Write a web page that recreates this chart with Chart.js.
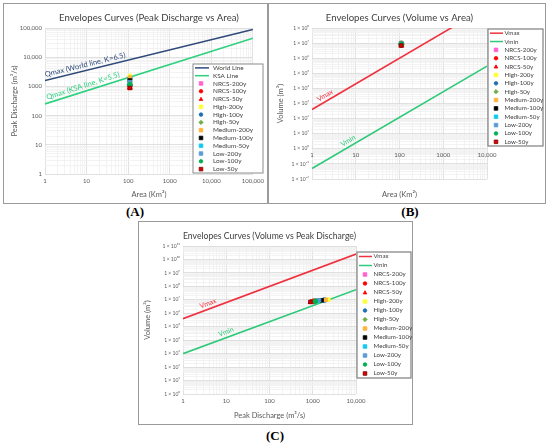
<!DOCTYPE html>
<html>
<head>
<meta charset="utf-8">
<script src="https://cdn.jsdelivr.net/npm/chart.js@4.4.1/dist/chart.umd.min.js"></script>
<style>
  html, body { margin: 0; padding: 0; background: #fff; }
  body { width: 550px; height: 447px; position: relative; overflow: hidden; }
  .panel { position: absolute; border: 1px solid #9a9a9a; background: #fff; }
  .panel canvas { position: absolute; left: 0; top: 0; }
  .tag { position: absolute; font: bold 13px 'Liberation Serif', serif; color: #000; transform: translateX(-50%); }
</style>
</head>
<body>
<div class="panel" style="left:3px;top:3px;width:263px;height:199px;"><canvas id="chartA" width="263" height="199"></canvas></div>
<div class="panel" style="left:268px;top:3px;width:276px;height:199px;"><canvas id="chartB" width="276" height="199"></canvas></div>
<div class="panel" style="left:138px;top:221px;width:273px;height:202px;"><canvas id="chartC" width="273" height="202"></canvas></div>
<div class="tag" style="left:135px;top:204px;">(A)</div>
<div class="tag" style="left:410px;top:204px;">(B)</div>
<div class="tag" style="left:275px;top:428px;">(C)</div>
<script>
// scenarios (same watershed, ~110 km²)
const scenarios = ['NRCS-200y', 'NRCS-100y', 'NRCS-50y', 'High-200y', 'High-100y', 'High-50y',
    'Medium-200y', 'Medium-100y', 'Medium-50y', 'Low-200y', 'Low-100y', 'Low-50y'];
const areaKm2 = [110, 110, 110, 110, 110, 110, 110, 110, 110, 110, 110, 110];
const peakQ = [1250, 1050, 900, 2300, 1850, 1500, 2000, 1600, 1300, 1400, 1150, 880];
const volumeM3 = [9.0e6, 7.8e6, 6.8e6, 1.05e7, 9.6e6, 8.6e6, 1.0e7, 9.2e6, 8.2e6, 9.4e6, 8.0e6, 7.0e6];

// envelope lines (end points)
const worldArea = [1, 100000];
const worldQ = [1585, 89125];
const ksaArea = [1, 100000];
const ksaQ = [251, 44668];
const vmaxArea = [1, 10000];
const vmaxVol = [400, 2.5e9];
const vminArea = [1, 10000];
const vminVol = [0.05, 3.0e5];
const vmaxQ = [1, 10000];
const vmaxQVol = [4.0e5, 2.5e10];
const vminQ = [1, 10000];
const vminQVol = [1000, 5.6e7];

// tick labels
const tickA = [1, 10, 100, 1000, 10000, 100000];
const tickALabels = ['1', '10', '100', '1000', '10,000', '100,000'];
const tickX4 = [1, 10, 100, 1000, 10000];
const tickX4Labels = ['1', '10', '100', '1000', '10,000'];
const volTicksB = [1e-2, 1e-1, 1e0, 1e1, 1e2, 1e3, 1e4, 1e5, 1e6, 1e7, 1e8];
const volTicksBLabels = ['1 × 10⁻²', '1 × 10⁻¹', '1 × 10⁰', '1 × 10¹', '1 × 10²', '1 × 10³',
    '1 × 10⁴', '1 × 10⁵', '1 × 10⁶', '1 × 10⁷', '1 × 10⁸'];
const volTicksC = [1e0, 1e1, 1e2, 1e3, 1e4, 1e5, 1e6, 1e7, 1e8, 1e9, 1e10, 1e11];
const volTicksCLabels = ['1 × 10⁰', '1 × 10¹', '1 × 10²', '1 × 10³', '1 × 10⁴', '1 × 10⁵',
    '1 × 10⁶', '1 × 10⁷', '1 × 10⁸', '1 × 10⁹', '1 × 10¹⁰', '1 × 10¹¹'];

// marker styles per scenario
const markerShape = ['rect', 'circle', 'triangle', 'rect', 'circle', 'rectRot',
    'rect', 'rect', 'rect', 'rect', 'circle', 'rect'];
const markerFill = ['#ff5fd0', '#ff0000', '#ff0000', '#ffff33', '#1f6fb2', '#70ad47',
    '#ffb13b', '#000000', '#12c8ee', '#5b9bd5', '#00b050', '#e00000'];
const markerEdge = ['#ff5fd0', '#ff0000', '#ff0000', '#ffff33', '#1f6fb2', '#70ad47',
    '#ffb13b', '#000000', '#12c8ee', '#5b9bd5', '#00b050', '#7a0000'];

const FONT = 'Lato, sans-serif';
const TXT = '#595959';

function pairs(xs, ys) {
    return xs.map((x, i) => ({ x: x, y: ys[i] }));
}

function lineSet(label, xs, ys, color) {
    return {
        type: 'line', label: label, data: pairs(xs, ys),
        borderColor: color, backgroundColor: color, borderWidth: 1.6,
        pointRadius: 0, fill: false, order: 30, xAxisID: 'x', yAxisID: 'y'
    };
}

function markerSets(xs, ys) {
    return scenarios.map((name, i) => ({
        type: 'scatter', label: name, data: [{ x: xs[i], y: ys[i] }],
        pointStyle: markerShape[i], backgroundColor: markerFill[i], borderColor: markerEdge[i],
        pointRadius: markerShape[i] === 'triangle' ? 3 : 2.5, pointBorderWidth: 0.8,
        order: 12 - i, xAxisID: 'x', yAxisID: 'y'
    }));
}

// minor + major ticks on every decade
function decadeTicks(scale) {
    const out = [];
    const lo = Math.round(Math.log10(scale.min));
    const hi = Math.round(Math.log10(scale.max));
    for (let e = lo; e <= hi; e++) {
        for (let m = 1; m <= 9; m++) {
            const v = m * Math.pow(10, e);
            if (v > scale.max * 1.000001) break;
            out.push({ value: v, major: m === 1 });
        }
    }
    scale.ticks = out;
}

function labeler(values, labels) {
    return function (value) {
        const i = values.findIndex(v => Math.abs(v - value) <= v * 1e-6);
        return i >= 0 ? labels[i] : '';
    };
}

function logAxis(min, max, values, labels, fontSize, extra) {
    const ax = {
        type: 'logarithmic', min: min, max: max,
        afterBuildTicks: decadeTicks,
        grid: {
            drawTicks: false,
            color: c => (c.tick && c.tick.major) ? '#d9d9d9' : '#f0f0f0',
            lineWidth: 0.8
        },
        border: { display: false },
        ticks: {
            autoSkip: false, maxRotation: 0, minRotation: 0,
            color: TXT, font: { family: FONT, size: fontSize },
            callback: labeler(values, labels)
        }
    };
    return Object.assign(ax, extra || {});
}

function axisTitle(text, padding) {
    return { display: true, text: text, color: TXT, font: { family: FONT, size: 7.5 }, padding: padding };
}

function drawMarker(ctx, shape, x, y, r, fill, edge) {
    ctx.save();
    ctx.fillStyle = fill;
    ctx.strokeStyle = edge;
    ctx.lineWidth = 0.8;
    ctx.beginPath();
    if (shape === 'circle') {
        ctx.arc(x, y, r, 0, Math.PI * 2);
    } else if (shape === 'triangle') {
        ctx.moveTo(x, y - r);
        ctx.lineTo(x + r, y + r * 0.8);
        ctx.lineTo(x - r, y + r * 0.8);
        ctx.closePath();
    } else if (shape === 'rectRot') {
        ctx.moveTo(x, y - r * 1.2);
        ctx.lineTo(x + r * 1.2, y);
        ctx.lineTo(x, y + r * 1.2);
        ctx.lineTo(x - r * 1.2, y);
        ctx.closePath();
    } else {
        ctx.rect(x - r, y - r, 2 * r, 2 * r);
    }
    ctx.fill();
    ctx.stroke();
    ctx.restore();
}

// legend box + labels along the envelope lines
const envDecor = {
    id: 'envDecor',
    afterDatasetsDraw(chart, args, opts) {
        const ctx = chart.ctx;
        const xs = chart.scales.x, ys = chart.scales.y;
        (opts.notes || []).forEach(n => {
            const ds = chart.data.datasets[n.dataset];
            const a = ds.data[0], b = ds.data[ds.data.length - 1];
            const t = (Math.log10(n.at) - Math.log10(a.x)) / (Math.log10(b.x) - Math.log10(a.x));
            const yv = Math.pow(10, Math.log10(a.y) + t * (Math.log10(b.y) - Math.log10(a.y)));
            const px = xs.getPixelForValue(n.at), py = ys.getPixelForValue(yv);
            const ang = Math.atan2(ys.getPixelForValue(b.y) - ys.getPixelForValue(a.y),
                xs.getPixelForValue(b.x) - xs.getPixelForValue(a.x));
            ctx.save();
            ctx.translate(px, py);
            ctx.rotate(ang);
            ctx.font = n.size + 'px ' + FONT;
            ctx.fillStyle = ds.borderColor;
            ctx.textAlign = 'center';
            ctx.textBaseline = 'bottom';
            ctx.fillText(n.text, 0, -n.gap);
            ctx.restore();
        });
    },
    afterDraw(chart, args, opts) {
        const lg = opts.legend;
        if (!lg) return;
        const ctx = chart.ctx;
        const sets = chart.data.datasets;
        ctx.save();
        ctx.fillStyle = '#ffffff';
        ctx.fillRect(lg.left, lg.top, lg.width, lg.height);
        ctx.strokeStyle = lg.border;
        ctx.lineWidth = lg.borderWidth;
        ctx.strokeRect(lg.left, lg.top, lg.width, lg.height);
        const rowH = lg.height / sets.length;
        ctx.font = lg.size + 'px ' + FONT;
        ctx.textBaseline = 'middle';
        ctx.textAlign = 'left';
        sets.forEach((ds, i) => {
            const cy = lg.top + rowH * (i + 0.5);
            if (ds.type === 'line') {
                ctx.strokeStyle = ds.borderColor;
                ctx.lineWidth = 1.5;
                ctx.beginPath();
                ctx.moveTo(lg.left + 2, cy);
                ctx.lineTo(lg.left + lg.lineEnd, cy);
                ctx.stroke();
            } else {
                drawMarker(ctx, ds.pointStyle, lg.left + lg.markerX, cy, 1.8, ds.backgroundColor, ds.borderColor);
            }
            ctx.fillStyle = '#404040';
            ctx.fillText(ds.label, lg.left + lg.textX, cy);
        });
        ctx.restore();
    }
};

function titleOpts(text) {
    return {
        display: true, text: text, color: '#404040', fullSize: false,
        font: { family: FONT, size: 9.6, weight: 'normal' }, padding: { top: 8.5, bottom: 4 }
    };
}

// ---------- (A) Peak discharge vs area ----------
new Chart(document.getElementById('chartA'), {
    data: {
        datasets: [
            lineSet('World Line', worldArea, worldQ, '#2f4a7a'),
            lineSet('KSA Line', ksaArea, ksaQ, '#2ed17f')
        ].concat(markerSets(areaKm2, peakQ))
    },
    options: {
        responsive: false, animation: false,
        layout: { padding: { left: 0, right: 14, top: 0, bottom: 0 } },
        scales: {
            x: logAxis(1, 100000, tickA, tickALabels, 6, {
                position: 'bottom',
                title: axisTitle('Area (Km²)', { top: 0, bottom: 3.5 }),
                afterFit: s => { s.height = 29; }
            }),
            y: logAxis(1, 100000, tickA, tickALabels, 6, {
                position: 'left',
                title: axisTitle('Peak Discharge (m³/s)', { top: 6.5, bottom: 0 }),
                afterFit: s => { s.width = 41; }
            })
        },
        plugins: {
            legend: { display: false },
            tooltip: { enabled: false },
            title: titleOpts('Envelopes Curves (Peak Discharge vs Area)'),
            envDecor: {
                notes: [
                    { dataset: 0, at: 10, text: 'Qmax (World line, K=6.5)', size: 7.5, gap: 2 },
                    { dataset: 1, at: 9, text: 'Qmax (KSA line, K=5.5)', size: 7.5, gap: 2 }
                ],
                legend: { left: 189, top: 60, width: 70, height: 109, size: 6.4,
                    lineEnd: 16, markerX: 8, textX: 20, border: '#8c8c8c', borderWidth: 1 }
            }
        }
    },
    plugins: [envDecor]
});

// ---------- (B) Volume vs area ----------
new Chart(document.getElementById('chartB'), {
    data: {
        datasets: [
            lineSet('Vmax', vmaxArea, vmaxVol, '#f0323f'),
            lineSet('Vmin', vminArea, vminVol, '#2ec979')
        ].concat(markerSets(areaKm2, volumeM3))
    },
    options: {
        responsive: false, animation: false,
        layout: { padding: { left: 0, right: 58, top: 0, bottom: 0 } },
        scales: {
            x: logAxis(1, 10000, tickX4, tickX4Labels, 6, {
                position: { y: 1 }
            }),
            xt: {
                type: 'linear', position: 'bottom', axis: 'x',
                grid: { display: false }, border: { display: false }, ticks: { display: false },
                title: axisTitle('Area (Km²)', { top: 0, bottom: 3.5 }),
                afterFit: s => { s.height = 24; }
            },
            y: logAxis(0.01, 1e8, volTicksB, volTicksBLabels, 5, {
                position: 'left',
                title: axisTitle('Volume (m³)', { top: 7.5, bottom: 0 }),
                afterFit: s => { s.width = 43; }
            })
        },
        plugins: {
            legend: { display: false },
            tooltip: { enabled: false },
            title: titleOpts('Envelopes Curves (Volume vs Area)'),
            envDecor: {
                notes: [
                    { dataset: 0, at: 2.3, text: 'Vmax', size: 7, gap: 2 },
                    { dataset: 1, at: 7.8, text: 'Vmin', size: 7, gap: 2 }
                ],
                legend: { left: 219, top: 25, width: 55, height: 117, size: 6.2,
                    lineEnd: 15, markerX: 8, textX: 16.5, border: '#7f7f7f', borderWidth: 1.2 }
            }
        }
    },
    plugins: [envDecor]
});
Chart.getChart('chartB').options.scales.x.ticks.padding = 3;
Chart.getChart('chartB').update();

// ---------- (C) Volume vs peak discharge ----------
new Chart(document.getElementById('chartC'), {
    data: {
        datasets: [
            lineSet('Vmax', vmaxQ, vmaxQVol, '#f0323f'),
            lineSet('Vmin', vminQ, vminQVol, '#2ec979')
        ].concat(markerSets(peakQ, volumeM3))
    },
    options: {
        responsive: false, animation: false,
        layout: { padding: { left: 0, right: 56, top: 0, bottom: 0 } },
        scales: {
            x: logAxis(1, 10000, tickX4, tickX4Labels, 6, {
                position: 'bottom',
                title: axisTitle('Peak Discharge (m³/s)', { top: 0, bottom: 3.5 }),
                afterFit: s => { s.height = 30; }
            }),
            y: logAxis(1, 1e11, volTicksC, volTicksCLabels, 5, {
                position: 'left',
                title: axisTitle('Volume (m³)', { top: 4.5, bottom: 0 }),
                afterFit: s => { s.width = 44; }
            })
        },
        plugins: {
            legend: { display: false },
            tooltip: { enabled: false },
            title: titleOpts('Envelopes Curves (Volume vs Peak Discharge)'),
            envDecor: {
                notes: [
                    { dataset: 0, at: 4.2, text: 'Vmax', size: 7, gap: 2 },
                    { dataset: 1, at: 11, text: 'Vmin', size: 7, gap: 2 }
                ],
                legend: { left: 218, top: 30, width: 54, height: 126, size: 6.2,
                    lineEnd: 15, markerX: 8, textX: 16.5, border: '#7f7f7f', borderWidth: 1.2 }
            }
        }
    },
    plugins: [envDecor]
});
</script>
</body>
</html>
